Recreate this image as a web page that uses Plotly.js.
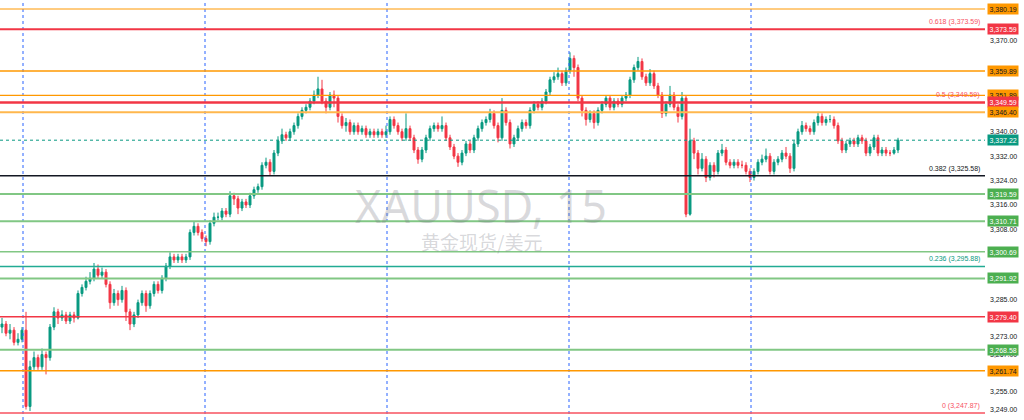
<!DOCTYPE html>
<html>
<head>
<meta charset="utf-8">
<script src="https://cdn.plot.ly/plotly-3.0.1.min.js"></script>
<style>html,body{margin:0;padding:0;background:#fff}#chart{width:1024px;height:420px}</style>
</head>
<body>
<div id="chart"></div>
<script>
// XAUUSD 15m candles
const firstOpen = 3276;
const closes = [
3277,3274,3275,3271,3272,3275,3250,3263,3266,3263,3267,3266,3276,3281,3279,3280,3278,3280,3279,3287,
3289,3291,3292,3295,3293,3294,3290,3284,3287,3285,3288,3281,3277,3280,3284,3287,3283,3287,3290,3288,
3292,3296,3299,3298,3299,3298,3299,3307,3309,3307,3305,3304,3310,3312,3312,3314,3313,3319,3318,3315,
3317,3316,3319,3321,3322,3329,3330,3327,3333,3337,3339,3338,3340,3342,3345,3347,3348,3350,3352,3354,
3350,3348,3352,3351,3345,3342,3343,3340,3342,3340,3341,3339,3340,3339,3340,3339,3340,3344,3342,3340,
3338,3341,3338,3334,3331,3334,3338,3341,3342,3341,3342,3338,3335,3332,3330,3333,3336,3334,3338,3341,
3343,3344,3346,3342,3338,3347,3343,3336,3338,3341,3343,3342,3347,3349,3348,3350,3353,3357,3358,3359,
3356,3360,3364,3361,3351,3347,3344,3346,3343,3347,3349,3351,3348,3350,3349,3351,3352,3357,3361,3363,
3358,3356,3359,3355,3352,3346,3349,3352,3348,3345,3351,3313,3337,3333,3328,3331,3325,3329,3327,3333,
3334,3330,3329,3330,3329,3329,3327,3325,3327,3330,3331,3332,3327,3330,3331,3333,3332,3328,3336,3340,
3342,3341,3340,3343,3345,3343,3344,3344,3342,3337,3334,3336,3337,3336,3338,3337,3333,3335,3338,3333,
3334,3333,3333,3334,3337.22];
const highs = [
3279,3278,3277,3276,3274,3276,3281,3265,3268,3267,3269,3268,3277,3282.5,3282,3281.5,3281,3281,3281,3288,
3290,3292.5,3294,3297,3296.5,3295.5,3295,3291,3288.5,3288,3289.5,3289,3282,3281,3285,3288,3288,3288,3291,3291,
3293,3297,3300.5,3300,3300,3300,3300,3308,3310.5,3310,3308,3306,3311,3313.5,3313.5,3315,3315,3320.5,3320,3319,
3318,3318,3320,3322,3323,3330,3331.5,3331,3334,3338.5,3341,3340,3341,3343,3346,3348,3349,3351,3353.5,3358,
3357,3351,3353,3353.5,3352,3346,3344.5,3344,3343,3343,3342,3342,3341,3341,3341,3341,3342,3345,3345,3343,
3341,3346,3342,3339,3335,3335,3339,3342,3343,3343,3345,3343,3339,3336,3333,3334,3337,3337,3339,3342,
3344,3345,3347.5,3347,3343,3351,3348,3344,3339,3342,3344,3344,3348,3350,3350,3351,3354,3358,3359.5,3361,
3360,3361,3366,3365,3362,3352,3348,3347,3347,3348,3350,3352,3352,3351,3351,3352,3353,3358,3362,3364.5,
3364,3359,3360.5,3360,3356,3353,3350,3355,3353,3349,3353,3352,3341,3338,3334,3333,3332,3330,3330,3334,
3336,3335,3331,3331,3331,3330.5,3330,3328,3328,3331,3332.5,3334.5,3333,3331,3332,3334,3335,3333,3337,3341,
3343.5,3343,3342,3344,3346.5,3346,3345,3345.5,3345,3343,3338,3337,3338,3338,3339,3339,3338,3336,3339,3339,
3335,3335,3334,3335,3338];
const lows = [
3274,3273,3272,3270,3270,3271,3249,3248.5,3262,3262,3262,3260.5,3265,3275,3277,3278,3277,3277,3277.5,3278.5,
3286,3288,3290,3291,3292,3292,3289,3282,3283,3283,3284,3278,3275,3276,3279,3283,3281,3282,3286,3287,
3287,3291,3295,3297,3297,3297,3297,3298,3306,3306,3304,3302.5,3303,3309,3311,3311,3312,3312,3316,3313,
3314,3315,3315,3318,3320,3321,3328,3325.5,3326,3332,3336,3337,3337,3339,3341,3344,3346,3347,3349,3351,
3349,3346,3347,3348,3343,3341,3340,3339,3339,3339,3339,3338,3338,3338,3338,3338,3338,3339,3341,3339,
3337,3337,3337,3333,3329.5,3330,3333,3337,3340,3340,3340,3337,3334,3331,3328.5,3329,3332,3333,3333,3337,
3340,3342,3343,3341,3336.5,3337,3342,3334.5,3335,3337,3340,3341,3341,3346,3347,3347,3349,3352,3356,3357,
3355,3355,3359,3358,3350,3345,3342,3343,3341,3342,3346,3348,3347,3347,3348,3348,3350,3351,3356,3360,
3357,3355,3355,3354,3351,3344.5,3345,3348,3347,3343,3344,3312,3312.5,3331,3326,3327,3323.5,3324,3325,3326,
3332,3329,3328,3328,3328,3328,3326,3323.5,3324,3326,3329,3330,3326,3326,3329,3330,3331,3326.5,3327,3335,
3339,3340,3339,3339,3342,3342,3342,3343,3341,3336,3333,3333,3335,3335,3335,3336,3332,3332,3334,3332,
3332,3332,3332,3332.5,3333];

// horizontal level lines: price, colour, width
const levelPrices = [3380.19, 3373.59, 3359.89, 3351.89, 3349.59, 3346.40, 3319.59, 3310.71, 3300.69, 3291.92, 3279.40, 3268.58, 3261.74];
const levelColors = ['#ff9800','#f23645','#ff9800','#ff9800','#f23645','#ffb74d','#81c784','#81c784','#81c784','#81c784','#f23645','#81c784','#ff9800'];
const levelWidths = [1, 2, 1.5, 1.2, 2.5, 2, 2, 2, 1.5, 2, 1.5, 2, 1.5];
const labelBg = ['#ff9800','#f23645','#ff9800','#ff9800','#f23645','#ff9800','#4caf50','#4caf50','#4caf50','#4caf50','#f23645','#4caf50','#ff9800'];
const labelFg = ['#131722','#ffffff','#131722','#131722','#ffffff','#131722','#ffffff','#ffffff','#ffffff','#ffffff','#ffffff','#ffffff','#131722'];

// fibonacci levels
const fibRatios = ['0.618','0.5','0.382','0.236','0'];
const fibPrices = [3373.59, 3349.59, 3325.58, 3295.88, 3247.87];
const fibColors = ['#f7525f','#f7525f','#131722','#089981','#f7525f'];
const fibLineColors = [null, null, '#131722', '#22ab94', '#f7525f'];

const lastPrice = 3337.22;
const daySeparators = [5.25, 50.75, 96.25, 141.75, 187.25];
const yTicks = [3370, 3340, 3332, 3324, 3316, 3308, 3285, 3273, 3267, 3255, 3249];

const fmt = v => v.toLocaleString('en-US', {minimumFractionDigits: 2, maximumFractionDigits: 2});

const idx = closes.map((_, i) => i);
const opens = closes.map((c, i) => i === 0 ? firstOpen : closes[i - 1]);

const trace = {
  type: 'candlestick', x: idx, open: opens, high: highs, low: lows, close: closes,
  increasing: {line: {color: '#089981', width: 1}, fillcolor: '#089981'},
  decreasing: {line: {color: '#f23645', width: 1}, fillcolor: '#f23645'},
  whiskerwidth: 0, hoverinfo: 'none'
};

const shapes = [];
const annotations = [];
daySeparators.forEach(x => shapes.push({type: 'line', xref: 'x', yref: 'paper', x0: x, x1: x, y0: 0, y1: 1,
  line: {color: '#2962ff', width: 1, dash: 'dot'}, layer: 'above'}));
levelPrices.forEach((p, i) => {
  shapes.push({type: 'line', xref: 'paper', yref: 'y', x0: 0, x1: 1, y0: p, y1: p,
    line: {color: levelColors[i], width: levelWidths[i]}, layer: 'above'});
});
fibPrices.forEach((p, i) => {
  if (fibLineColors[i]) shapes.push({type: 'line', xref: 'paper', yref: 'y', x0: 0, x1: 1, y0: p, y1: p,
    line: {color: fibLineColors[i], width: 1.5}, layer: 'above'});
  annotations.push({xref: 'paper', yref: 'y', x: 0.997, y: p, xanchor: 'right', yanchor: 'bottom', yshift: 1,
    text: fibRatios[i] + ' (' + fmt(p) + ')', showarrow: false,
    font: {family: 'Liberation Sans, Arial', size: 7, color: fibColors[i]}});
});
// last price dotted line
shapes.push({type: 'line', xref: 'paper', yref: 'y', x0: 0, x1: 1, y0: lastPrice, y1: lastPrice,
  line: {color: '#089981', width: 1, dash: 'dot'}, layer: 'above'});

levelPrices.forEach((p, i) => {
  annotations.push({xref: 'paper', yref: 'y', x: 1, y: p, xanchor: 'left', yanchor: 'middle', xshift: 2,
    text: fmt(p), showarrow: false, bgcolor: labelBg[i], borderpad: 1.5,
    font: {family: 'Liberation Sans, Arial', size: 7, color: labelFg[i]}});
});
annotations.push({xref: 'paper', yref: 'y', x: 1, y: lastPrice, xanchor: 'left', yanchor: 'middle', xshift: 2,
  text: fmt(lastPrice), showarrow: false, bgcolor: '#089981', borderpad: 1.5,
  font: {family: 'Liberation Sans, Arial', size: 7, color: '#ffffff'}});

// watermark
annotations.push({xref: 'paper', yref: 'paper', x: 481 / 985, y: 1 - 205 / 420, xanchor: 'center', yanchor: 'middle',
  text: 'XAUUSD, 15', showarrow: false, font: {family: 'Noto Sans, sans-serif', size: 45, color: 'rgba(120,123,134,0.28)'}});
annotations.push({xref: 'paper', yref: 'paper', x: 481 / 985, y: 1 - 242 / 420, xanchor: 'center', yanchor: 'middle',
  text: '黄金现货/美元', showarrow: false, font: {family: 'Noto Sans CJK SC, sans-serif', size: 19, color: 'rgba(120,123,134,0.3)'}});

const layout = {
  width: 1024, height: 420,
  margin: {l: 0, r: 39, t: 0, b: 0, pad: 0},
  paper_bgcolor: '#ffffff', plot_bgcolor: '#ffffff',
  showlegend: false,
  xaxis: {range: [-0.5, 245.75], visible: false, rangeslider: {visible: false}, fixedrange: true},
  yaxis: {range: [3245.57, 3383.14], side: 'right', showgrid: false, zeroline: false, showline: false,
    tickvals: yTicks, ticktext: yTicks.map(fmt), ticks: '', ticklabelstandoff: 4,
    tickfont: {family: 'Liberation Sans, Arial', size: 7, color: '#131722'}, fixedrange: true},
  shapes: shapes, annotations: annotations
};

Plotly.newPlot('chart', [trace], layout, {displayModeBar: false, staticPlot: true});
</script>
</body>
</html>
